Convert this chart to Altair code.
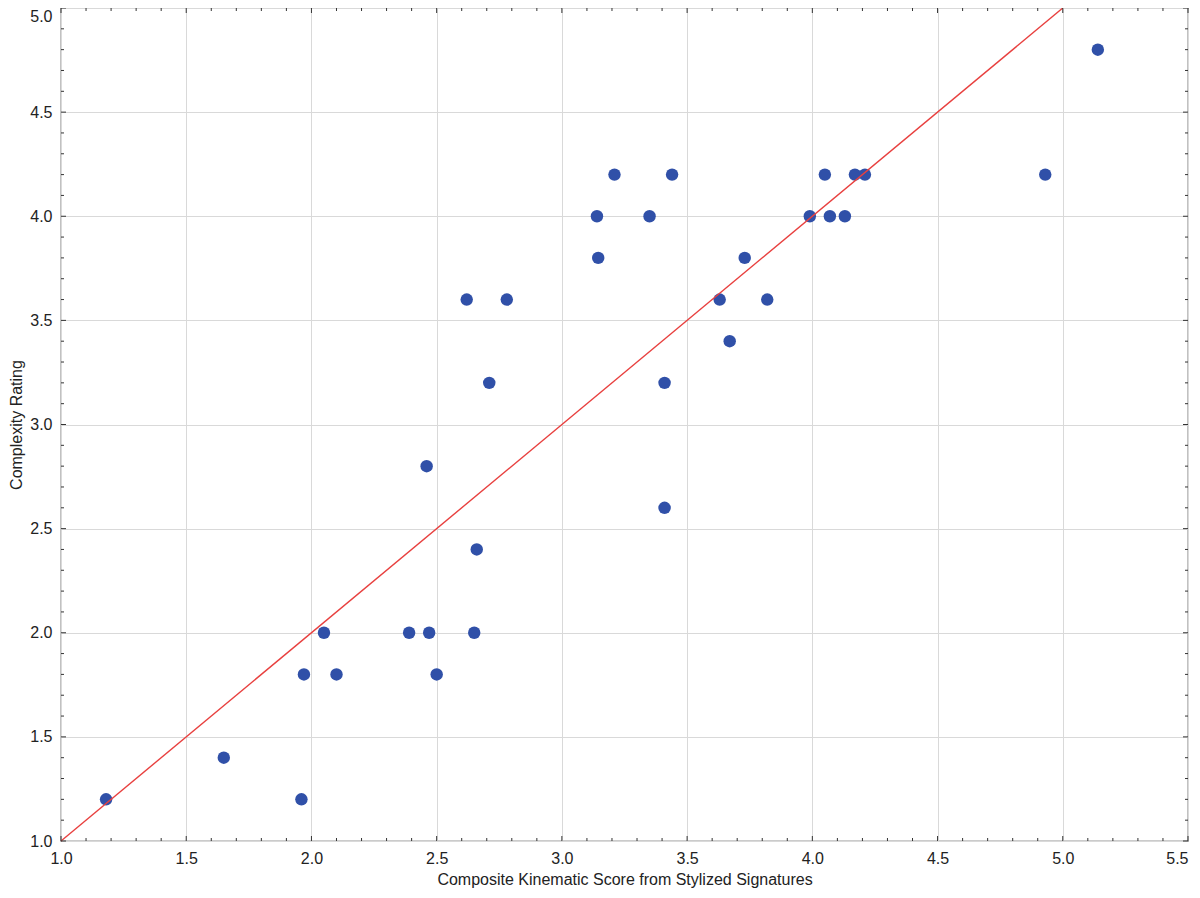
import altair as alt
import pandas as pd

# Data
x_vals = [1.18, 1.65, 1.96, 1.97, 2.05, 2.10, 2.39, 2.47, 2.50, 2.46, 2.65, 2.66,
          2.62, 2.71, 2.78, 3.14, 3.145, 3.21, 3.35, 3.44, 3.41, 3.41, 3.63, 3.67,
          3.73, 3.82, 3.99, 4.05, 4.07, 4.13, 4.17, 4.21, 4.93, 5.14]
y_vals = [1.2, 1.4, 1.2, 1.8, 2.0, 1.8, 2.0, 2.0, 1.8, 2.8, 2.0, 2.4,
          3.6, 3.2, 3.6, 4.0, 3.8, 4.2, 4.0, 4.2, 3.2, 2.6, 3.6, 3.4,
          3.8, 3.6, 4.0, 4.2, 4.0, 4.0, 4.2, 4.2, 4.2, 4.8]
line_x = [1.0, 5.0]
line_y = [1.0, 5.0]
x_major = [1.0, 1.5, 2.0, 2.5, 3.0, 3.5, 4.0, 4.5, 5.0, 5.5]
y_major = [1.0, 1.5, 2.0, 2.5, 3.0, 3.5, 4.0, 4.5, 5.0]
x_minor = [round(1.0 + 0.1 * i, 1) for i in range(46) if i % 5 != 0]
y_minor = [round(1.0 + 0.1 * i, 1) for i in range(41) if i % 5 != 0]

W, H = 1127, 833
FONT = "Liberation Sans"
TXT = "#222222"
FS = 16

xscale = alt.Scale(domain=[1.0, 5.5], nice=False, zero=False)
yscale = alt.Scale(domain=[1.0, 5.0], nice=False, zero=False)

xaxis = alt.Axis(values=x_major, format=".1f", grid=True, gridColor="#D9D9D9",
                 gridWidth=1, ticks=False, domain=False, labelPadding=9,
                 labelFont=FONT, labelFontSize=FS, labelColor=TXT,
                 labelAlign={"condition": {"test": "datum.value >= 5.5", "value": "right"},
                             "value": "center"},
                 title="Composite Kinematic Score from Stylized Signatures",
                 titleFont=FONT, titleFontSize=FS, titleFontWeight="normal",
                 titleColor=TXT, titleBaseline="alphabetic", titleY=43,
                 labelFlush=False)
yaxis = alt.Axis(values=y_major, format=".1f", grid=True, gridColor="#D9D9D9",
                 gridWidth=1, ticks=False, domain=False, labelPadding=9,
                 labelFont=FONT, labelFontSize=FS, labelColor=TXT,
                 labelBaseline={"condition": {"test": "datum.value >= 5", "value": "top"},
                                "value": "middle"},
                 title="Complexity Rating", titleFont=FONT, titleFontSize=FS,
                 titleFontWeight="normal", titleColor=TXT,
                 titleAngle=-90, titleBaseline="alphabetic", titleAlign="center",
                 titleX=-40, titleY=H / 2, labelFlush=False)

X = alt.X("x:Q", scale=xscale, axis=xaxis)
Y = alt.Y("y:Q", scale=yscale, axis=yaxis)

pts = pd.DataFrame({"x": x_vals, "y": y_vals})
ln = pd.DataFrame({"x": line_x, "y": line_y})
xmaj = pd.DataFrame({"x": x_major})
xmin = pd.DataFrame({"x": x_minor})
ymaj = pd.DataFrame({"y": y_major})
ymin = pd.DataFrame({"y": y_minor})

TICK = "#333333"

def xticks(df, length):
    bottom = alt.Chart(df).mark_rule(color=TICK, strokeWidth=1).encode(
        x=X, y=alt.value(H), y2=alt.value(H - length))
    top = alt.Chart(df).mark_rule(color=TICK, strokeWidth=1).encode(
        x=X, y=alt.value(0), y2=alt.value(length))
    return [bottom, top]

def yticks(df, length):
    left = alt.Chart(df).mark_rule(color=TICK, strokeWidth=1).encode(
        y=Y, x=alt.value(0), x2=alt.value(length))
    right = alt.Chart(df).mark_rule(color=TICK, strokeWidth=1).encode(
        y=Y, x=alt.value(W), x2=alt.value(W - length))
    return [left, right]

line = alt.Chart(ln).mark_line(color="#E8403F", strokeWidth=1.4).encode(x=X, y=Y)
points = alt.Chart(pts).mark_circle(size=155, color="#3050A8", opacity=1).encode(x=X, y=Y)

layers = [points, line] + xticks(xmaj, 5) + xticks(xmin, 3) + yticks(ymaj, 5) + yticks(ymin, 3)

chart = alt.layer(*layers).properties(
    width=W, height=H,
    autosize=alt.AutoSizeParams(type="none"),
    padding={"left": 53, "top": 0, "right": 4, "bottom": 47},
    background="white",
).configure_view(stroke="#333333", strokeWidth=1.2)

chart.save("out.html", embed_options={"renderer": "svg", "actions": False})
